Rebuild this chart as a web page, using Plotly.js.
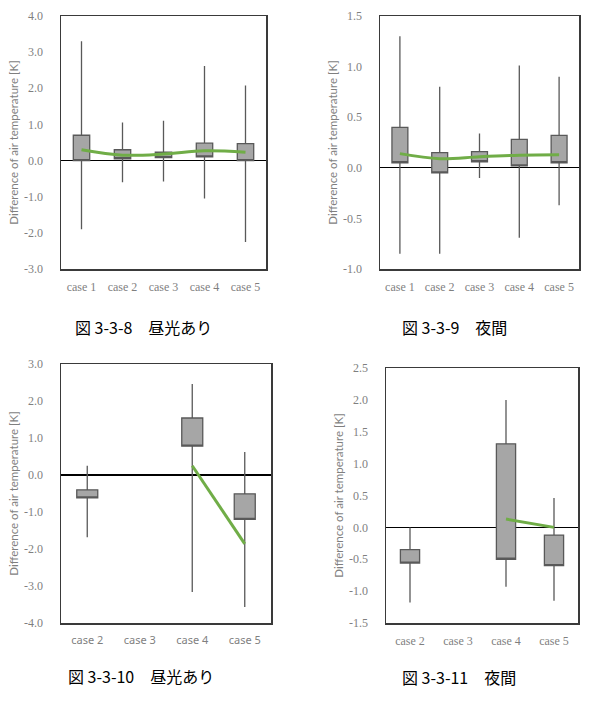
<!DOCTYPE html>
<html>
<head>
<meta charset="utf-8">
<script src="https://cdn.plot.ly/plotly-3.0.1.min.js"></script>
<style>
  html, body { margin: 0; padding: 0; background: #fff; }
  #chart { width: 605px; height: 701px; }
</style>
</head>
<body>
<div id="chart"></div>
<script>
// Categories
const casesAll = ['case 1', 'case 2', 'case 3', 'case 4', 'case 5'];
const casesB = ['case 2', 'case 3', 'case 4', 'case 5'];
const casesBData = ['case 2', 'case 4', 'case 5'];
const casesBLine = ['case 4', 'case 5'];

// 図 3-3-8 昼光あり
const f8Upper = [3.3, 1.05, 1.1, 2.62, 2.08];
const f8Q3 = [0.7, 0.3, 0.23, 0.48, 0.47];
const f8Q1 = [0.0, 0.05, 0.08, 0.1, 0.0];
const f8Lower = [-1.9, -0.6, -0.58, -1.05, -2.25];
const f8Line = [0.3, 0.15, 0.18, 0.27, 0.23];

// 図 3-3-9 夜間
const f9Upper = [1.3, 0.8, 0.34, 1.01, 0.9];
const f9Q3 = [0.4, 0.15, 0.16, 0.28, 0.32];
const f9Q1 = [0.05, -0.05, 0.06, 0.02, 0.05];
const f9Lower = [-0.85, -0.85, -0.1, -0.69, -0.37];
const f9Line = [0.14, 0.09, 0.11, 0.125, 0.13];

// 図 3-3-10 昼光あり
const f10Upper = [0.25, 2.46, 0.62];
const f10Q3 = [-0.4, 1.54, -0.51];
const f10Q1 = [-0.62, 0.78, -1.2];
const f10Lower = [-1.68, -3.16, -3.57];
const f10Line = [0.25, -1.86];

// 図 3-3-11 夜間
const f11Upper = [0.0, 2.0, 0.46];
const f11Q3 = [-0.35, 1.31, -0.12];
const f11Q1 = [-0.56, -0.5, -0.6];
const f11Lower = [-1.18, -0.93, -1.15];
const f11Line = [0.13, 0.0];

// Axis ticks
const yTicks8 = [-3, -2, -1, 0, 1, 2, 3, 4];
const yTicks9 = [-1.0, -0.5, 0.0, 0.5, 1.0, 1.5];
const yTicks10 = [-4, -3, -2, -1, 0, 1, 2, 3];
const yTicks11 = [-1.5, -1.0, -0.5, 0.0, 0.5, 1.0, 1.5, 2.0, 2.5];

const captions = ['図 3-3-8　昼光あり', '図 3-3-9　夜間', '図 3-3-10　昼光あり', '図 3-3-11　夜間'];
const yTitle = 'Difference of air temperature [K]';

const BOX_FILL = '#a6a6a6';
const BOX_LINE = '#595959';
const GREEN = '#70ad47';
const TEXT_GRAY = '#7f7f7f';
const SERIF = 'Liberation Serif, serif';
const SANS = 'Noto Sans, sans-serif';
const TITLE_FONT = 'Lato, sans-serif';

function boxTrace(x, q1, q3, lo, hi, xa, ya) {
  return {
    type: 'box', x: x, q1: q1, median: q1, q3: q3,
    lowerfence: lo, upperfence: hi,
    xaxis: xa, yaxis: ya,
    width: 0.4, whiskerwidth: 0, boxpoints: false,
    fillcolor: BOX_FILL,
    line: { color: BOX_LINE, width: 1.3 },
    hoverinfo: 'skip', showlegend: false
  };
}
function lineTrace(x, y, xa, ya, shape) {
  return {
    type: 'scatter', mode: 'lines', x: x, y: y,
    xaxis: xa, yaxis: ya,
    line: { color: GREEN, width: 3, shape: shape },
    hoverinfo: 'skip', showlegend: false
  };
}

const data = [
  boxTrace(casesAll, f8Q1, f8Q3, f8Lower, f8Upper, 'x', 'y'),
  lineTrace(casesAll, f8Line, 'x', 'y', 'spline'),
  boxTrace(casesAll, f9Q1, f9Q3, f9Lower, f9Upper, 'x2', 'y2'),
  lineTrace(casesAll, f9Line, 'x2', 'y2', 'spline'),
  boxTrace(casesBData, f10Q1, f10Q3, f10Lower, f10Upper, 'x3', 'y3'),
  lineTrace(casesBLine, f10Line, 'x3', 'y3', 'linear'),
  boxTrace(casesBData, f11Q1, f11Q3, f11Lower, f11Upper, 'x4', 'y4'),
  lineTrace(casesBLine, f11Line, 'x4', 'y4', 'linear')
];

const W = 605, H = 701;
const px = v => v / W;
const py = v => 1 - v / H;

function xAxis(domain, cats, anchor, family) {
  return {
    domain: domain, anchor: anchor, type: 'category',
    categoryorder: 'array', categoryarray: cats,
    range: [-0.5, cats.length - 0.5],
    showgrid: false, zeroline: false, ticks: '',
    showline: true, mirror: true, linecolor: '#3a3a3a', linewidth: 1.5,
    tickfont: { family: family, size: family === SERIF ? 12 : 11, color: TEXT_GRAY },
    ticklabelstandoff: 6, fixedrange: true
  };
}
function yAxis(domain, ticks, anchor) {
  return {
    domain: domain, anchor: anchor,
    range: [ticks[0], ticks[ticks.length - 1]],
    tickvals: ticks, ticktext: ticks.map(v => v.toFixed(1)),
    showgrid: false, zeroline: true, zerolinecolor: '#000', zerolinewidth: 1.3,
    ticks: '', ticklabelstandoff: 14,
    showline: true, mirror: true, linecolor: '#3a3a3a', linewidth: 1.5,
    tickfont: { family: SERIF, size: 12, color: TEXT_GRAY },
    title: { text: yTitle, standoff: 3,
             font: { family: TITLE_FONT, size: 11.5, color: TEXT_GRAY } },
    fixedrange: true
  };
}

const captionFont = { family: 'Noto Sans CJK JP, sans-serif', size: 16, color: '#000' };
function caption(text, x, y) {
  return { text: text, x: px(x), y: py(y), xref: 'paper', yref: 'paper',
           xanchor: 'left', yanchor: 'middle', showarrow: false, font: captionFont };
}

const layout = {
  width: W, height: H,
  margin: { l: 0, r: 0, t: 0, b: 0 },
  paper_bgcolor: '#fff', plot_bgcolor: '#fff',
  showlegend: false,
  xaxis: xAxis([px(61), px(266)], casesAll, 'y', SERIF),
  yaxis: yAxis([py(269), py(16)], yTicks8, 'x'),
  xaxis2: xAxis([px(380), px(579)], casesAll, 'y2', SERIF),
  yaxis2: yAxis([py(269), py(16)], yTicks9, 'x2'),
  xaxis3: xAxis([px(61), px(271)], casesB, 'y3', SANS),
  yaxis3: yAxis([py(623), py(364)], yTicks10, 'x3'),
  xaxis4: xAxis([px(386), px(578)], casesB, 'y4', SERIF),
  yaxis4: yAxis([py(623), py(368)], yTicks11, 'x4'),
  annotations: [
    caption(captions[0], 73, 327),
    caption(captions[1], 400, 327),
    caption(captions[2], 66, 676),
    caption(captions[3], 400, 677)
  ]
};

Plotly.newPlot('chart', data, layout, { staticPlot: true, displayModeBar: false });
</script>
</body>
</html>
